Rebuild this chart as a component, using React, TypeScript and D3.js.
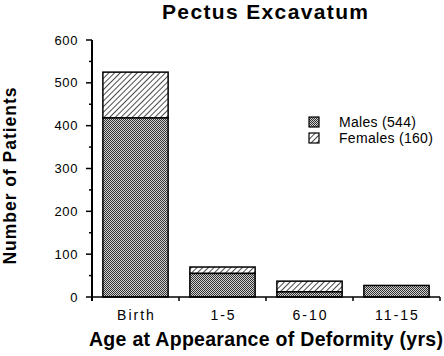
import React from "react";
import * as d3 from "d3";

const categories = ["Birth", "1-5", "6-10", "11-15"];
const males = [418, 55, 12, 27];
const females = [107, 15, 25, 0];
const yTicks = [0, 100, 200, 300, 400, 500, 600];
const yMinorTicks = [50, 150, 250, 350, 450, 550];
const legendLabels = ["Males (544)", "Females (160)"];
const title = "Pectus Excavatum";
const xTitle = "Age at Appearance of Deformity (yrs)";
const yTitle = "Number of Patients";

const W = 444;
const H = 356;
const left = 92;
const right = 440;
const top = 40;
const bottom = 297;
const FONT = "'Liberation Sans', Arial, Helvetica, sans-serif";

export default function App() {
  const x = d3
    .scaleBand<string>()
    .domain(categories)
    .range([left, right])
    .paddingInner(0.25)
    .paddingOuter(0.125);
  const y = d3.scaleLinear().domain([0, 600]).range([bottom, top]);
  const step = x.step();
  const boundaries = d3.range(categories.length + 1).map((i) => left + i * step);

  const stack = categories.map((c, i) => ({
    c,
    m: males[i],
    f: females[i],
  }));

  return (
    <svg
      width={W}
      height={H}
      style={{ position: "absolute", left: 0, top: 0, background: "#fff" }}
      fontFamily={FONT}
    >
      <defs>
        <pattern id="dots" width="2" height="2" patternUnits="userSpaceOnUse">
          <rect width="2" height="2" fill="#d0d0d0" />
          <rect x="0" y="0" width="1" height="1" fill="#333" />
          <rect x="1" y="1" width="1" height="1" fill="#333" />
        </pattern>
        <pattern
          id="hatch"
          width="4"
          height="4"
          patternUnits="userSpaceOnUse"
          patternTransform="rotate(45)"
        >
          <rect width="4" height="4" fill="#fff" />
          <line x1="0" y1="0" x2="0" y2="4" stroke="#111" strokeWidth="1.5" />
        </pattern>
      </defs>

      <text
        x={265}
        y={19}
        textAnchor="middle"
        fontSize={21}
        fontWeight="bold"
        textLength={206}
        lengthAdjust="spacing"
      >
        {title}
      </text>

      {stack.map((d) => {
        const x0 = x(d.c)!;
        const bw = x.bandwidth();
        return (
          <g key={d.c}>
            {d.f > 0 && (
              <rect
                x={x0}
                y={y(d.m + d.f)}
                width={bw}
                height={y(d.m) - y(d.m + d.f)}
                fill="url(#hatch)"
                stroke="#000"
                strokeWidth={1.5}
              />
            )}
            <rect
              x={x0}
              y={y(d.m)}
              width={bw}
              height={y(0) - y(d.m)}
              fill="url(#dots)"
              stroke="#000"
              strokeWidth={1.5}
            />
          </g>
        );
      })}

      {/* Y axis */}
      <line x1={left} x2={left} y1={top} y2={bottom + 4} stroke="#000" strokeWidth={2} />
      {yTicks.map((t) => (
        <g key={t}>
          <line x1={left - 6} x2={left} y1={y(t)} y2={y(t)} stroke="#000" strokeWidth={1.5} />
          <text
            x={78}
            y={y(t) + 4.5}
            textAnchor="end"
            fontSize={13}
            letterSpacing={0.6}
          >
            {t}
          </text>
        </g>
      ))}
      {yMinorTicks.map((t) => (
        <line key={t} x1={left - 3} x2={left} y1={y(t)} y2={y(t)} stroke="#000" strokeWidth={1.5} />
      ))}

      {/* X axis */}
      <line x1={left} x2={right} y1={bottom} y2={bottom} stroke="#000" strokeWidth={1.5} />
      {boundaries.slice(1).map((b, i) => (
        <line key={i} x1={b} x2={b} y1={bottom} y2={bottom + 4} stroke="#000" strokeWidth={1.5} />
      ))}
      {categories.map((c) => (
        <text
          key={c}
          x={x(c)! + x.bandwidth() / 2 + 1}
          y={320}
          textAnchor="middle"
          fontSize={14}
          letterSpacing={2}
        >
          {c}
        </text>
      ))}

      <text
        x={266}
        y={346}
        textAnchor="middle"
        fontSize={19.5}
        fontWeight="bold"
        textLength={354}
        lengthAdjust="spacing"
      >
        {xTitle}
      </text>

      <text
        transform={`translate(16,${176}) rotate(-90)`}
        textAnchor="middle"
        fontSize={17.5}
        fontWeight="bold"
        textLength={177}
        lengthAdjust="spacing"
      >
        {yTitle}
      </text>

      {/* Legend */}
      {legendLabels.map((l, i) => (
        <g key={l} transform={`translate(309,${117 + i * 16})`}>
          <rect
            width={10}
            height={10}
            fill={i === 0 ? "url(#dots)" : "url(#hatch)"}
            stroke="#000"
            strokeWidth={1.2}
          />
          <text x={30} y={10} fontSize={14} letterSpacing={0.3}>
            {l}
          </text>
        </g>
      ))}
    </svg>
  );
}
